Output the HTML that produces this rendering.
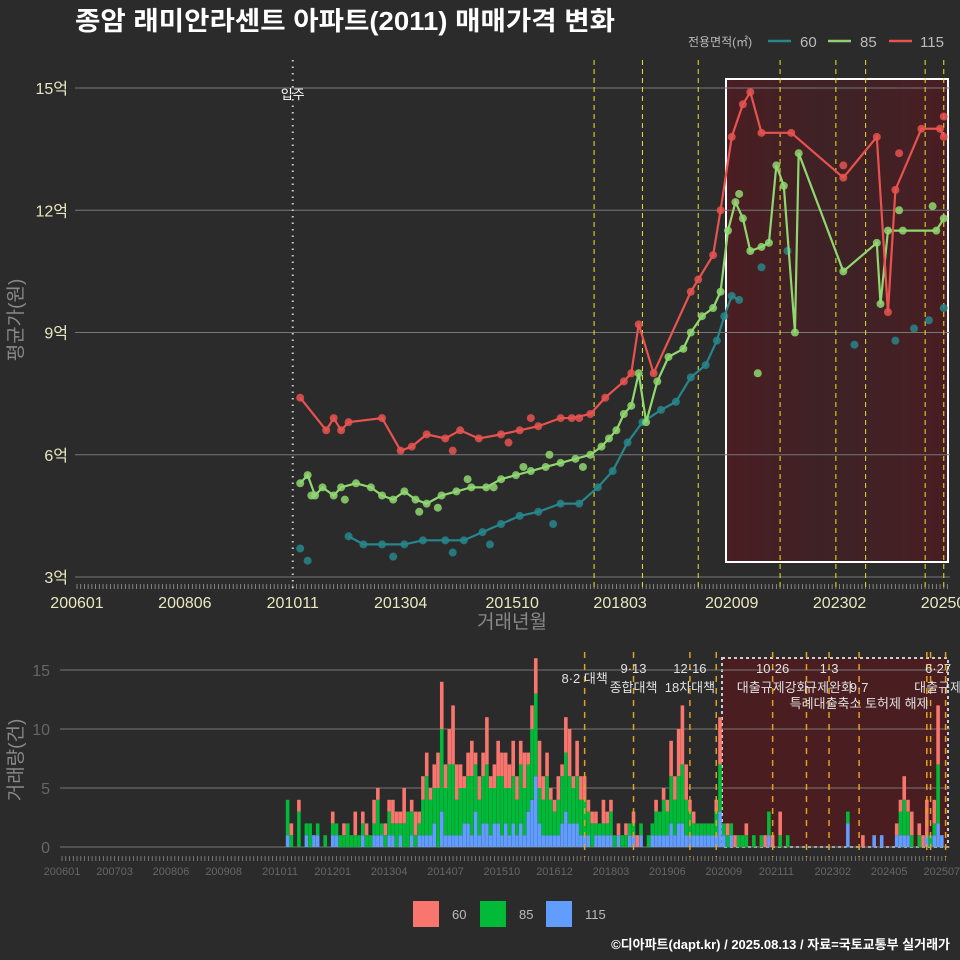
<!DOCTYPE html>
<html><head><meta charset="utf-8">
<style>
html,body{margin:0;padding:0;background:#2b2b2b;}
svg{display:block;font-family:"Liberation Sans","Noto Sans CJK KR",sans-serif;}
</style></head>
<body>
<svg id="c" width="960" height="960" viewBox="0 0 960 960" xmlns="http://www.w3.org/2000/svg">
<rect width="960" height="960" fill="#2b2b2b"/>
<text x="75" y="30" font-size="26" font-weight="bold" fill="#ffffff" textLength="540" lengthAdjust="spacingAndGlyphs">종암 래미안라센트 아파트(2011) 매매가격 변화</text>
<g font-size="14" fill="#bbbbbb">
<text x="688" y="46" font-size="12">전용면적(㎡)</text>
<line x1="768" y1="41" x2="791" y2="41" stroke="#27868b" stroke-width="2.5"/><text x="800" y="47" font-size="15">60</text>
<line x1="828" y1="41" x2="851" y2="41" stroke="#8fd16f" stroke-width="2.5"/><text x="860" y="47" font-size="15">85</text>
<line x1="889" y1="41" x2="912" y2="41" stroke="#e8524f" stroke-width="2.5"/><text x="920" y="47" font-size="15">115</text>
</g>
<g id="topg"></g>
<g id="botg"></g>
<g font-size="13" fill="#bbbbbb">
<rect x="413" y="901" width="26" height="26" fill="#f8766d"/><text x="452" y="919">60</text>
<rect x="480" y="901" width="26" height="26" fill="#00ba38"/><text x="519" y="919">85</text>
<rect x="546" y="901" width="26" height="26" fill="#619cff"/><text x="585" y="919">115</text>
</g>
<text x="950" y="949" text-anchor="end" font-size="13" font-weight="bold" fill="#ffffff">©디아파트(dapt.kr) / 2025.08.13 / 자료=국토교통부 실거래가</text>
</svg>
<script>
const NS="http://www.w3.org/2000/svg";
// ---------- data ----------
const priceYTicks=[3,6,9,12,15];
const topXLabels=["200601","200806","201011","201304","201510","201803","202009","202302","202507"];
const botXLabels=["200601","200703","200806","200908","201011","201201","201304","201407","201510","201612","201803","201906","202009","202111","202302","202405","202507"];
const s115Dates=["2011-01","2011-08","2011-10","2011-12","2012-02","2012-11","2013-04","2013-07","2013-11","2014-04","2014-08","2015-01","2015-07","2015-12","2016-05","2016-11","2017-02","2017-07","2017-11","2018-04","2018-06","2018-08","2018-12","2019-10","2019-12","2020-04","2020-06","2020-09","2020-12","2021-02","2021-05","2022-01","2023-03","2023-12","2024-03","2024-05","2024-12","2025-05","2025-06"];
const s115Vals=[7.4,6.6,6.9,6.6,6.8,6.9,6.1,6.2,6.5,6.4,6.6,6.4,6.5,6.6,6.7,6.9,6.9,7.0,7.4,7.8,8.0,9.2,8.0,10.0,10.3,10.9,12.0,13.8,14.6,14.9,13.9,13.9,12.8,13.8,9.5,12.5,14.0,14.0,13.8];
const s85Dates=["2011-01","2011-03","2011-05","2011-07","2011-10","2011-12","2012-04","2012-08","2012-11","2013-02","2013-05","2013-08","2013-11","2014-03","2014-07","2014-11","2015-03","2015-07","2015-11","2016-03","2016-07","2016-11","2017-03","2017-07","2017-10","2018-02","2018-04","2018-06","2018-08","2018-10","2019-01","2019-04","2019-08","2019-10","2020-01","2020-04","2020-06","2020-08","2020-10","2020-12","2021-02","2021-05","2021-07","2021-09","2021-11","2022-02","2022-03","2023-03","2023-12","2024-01","2024-03","2024-07","2025-04","2025-06"];
const s85Vals=[5.3,5.5,5.0,5.2,5.0,5.2,5.3,5.2,5.0,4.9,5.1,4.9,4.8,5.0,5.1,5.2,5.2,5.4,5.5,5.6,5.7,5.8,5.9,6.0,6.2,6.6,7.0,7.2,8.0,6.8,7.8,8.4,8.6,9.0,9.4,9.6,10.0,11.5,12.2,11.8,11.0,11.1,11.2,13.1,12.6,9.0,13.4,10.5,11.2,9.7,11.5,11.5,11.5,11.8];
const s85ExtraDates=["2011-04","2012-01","2013-09","2014-02","2014-10","2015-05","2016-01","2016-08","2017-05","2017-12","2020-11","2021-04","2024-06","2025-03"];
const s85ExtraVals=[5.0,4.9,4.6,4.7,5.4,5.2,5.7,6.0,5.7,6.4,12.4,8.0,12.0,12.1];
const s60Dates=["2012-02","2012-06","2012-11","2013-05","2013-10","2014-04","2014-09","2015-02","2015-07","2015-12","2016-05","2016-11","2017-04","2017-09","2018-01","2018-05","2018-09","2019-02","2019-06","2019-10","2020-02","2020-05","2020-07","2020-09","2020-11"];
const s60Vals=[4.0,3.8,3.8,3.8,3.9,3.9,3.9,4.1,4.3,4.5,4.6,4.8,4.8,5.2,5.6,6.3,6.8,7.1,7.3,7.9,8.2,8.8,9.4,9.9,9.8];
const s60ExtraDates=["2011-01","2011-03","2013-02","2014-06","2015-04","2016-09","2021-05","2021-12","2023-06","2024-05","2024-10","2025-02","2025-06"];
const s60ExtraVals=[3.7,3.4,3.5,3.6,3.8,4.3,10.6,11.0,8.7,8.8,9.1,9.3,9.6];
const s115ExtraDates=["2014-06","2015-09","2016-03","2017-04","2023-03","2024-06","2025-06"];
const s115ExtraVals=[6.1,6.3,6.9,6.9,13.1,13.4,14.3];
const topEvents=["2017-08","2018-09","2019-12","2021-10","2023-01","2023-09","2025-01","2025-06"];
// monthly volume from 2010-11
const volStart="2010-11";
const vol60=[0,0, 0,1,0,1,0,0,0,0,0,0,0,0, 1,0,0,1,0,0,2,0,1,1,0,2, 1,0,1,1,2,1,1,3,0,1,2,1, 2,2,1,2,3,4,2,3,5,3,2,1, 2,3,1,2,2,4,1,2,3,2,3,2, 3,2,2,3,1,2,3,4,2,2,1,1, 2,1,3,4,1,3,2,2,1,1,1,0, 2,1,1,0,1,0,1,0,1,1,0,0, 0,0,1,0,1,1,3,2,4,5,3,1, 1,0,0,0,0,0,1,4,0,1,0,1, 0,0,1,0,0,0,0,1,0,1,0,2, 0,0,0,0,0,0,0,0,0,0,0,0, 0,0,0,0,0,0,0,0,0,1,0,0, 0,0,0,0,0,0,1,1,2,1,2,0, 1,1,3,0,2,5,0];
const vol85=[0,0, 3,1,0,3,0,1,2,0,1,0,1,0, 1,1,1,1,2,1,1,1,1,1,1,1, 3,1,1,2,1,2,1,2,3,2,1,1, 3,5,3,3,5,7,4,6,6,3,4,3, 4,5,4,3,4,5,4,3,4,5,3,4, 4,3,5,4,4,6,7,3,3,5,3,2, 3,4,5,4,3,4,3,3,2,2,1,1, 1,1,2,1,0,1,1,1,1,0,1,0, 1,1,2,2,3,2,4,3,4,5,3,2, 1,1,1,1,1,1,2,4,1,1,1,0, 1,1,1,0,1,0,1,0,2,0,0,1, 0,1,0,0,0,0,0,0,0,0,0,0, 0,0,0,0,0,1,0,0,0,0,0,0, 0,0,0,0,0,0,0,2,3,2,1,0, 1,0,0,1,1,5,0];
const vol115=[0,0, 1,0,0,0,0,1,0,1,1,0,0,0, 1,1,0,0,0,0,0,0,1,0,0,1, 1,1,0,1,1,0,1,0,0,1,0,1, 1,1,1,2,0,3,1,1,1,1,1,2, 2,1,3,1,2,2,1,2,2,1,2,1, 2,1,2,1,3,4,6,2,1,1,1,1, 1,2,3,2,2,2,1,1,1,0,1,1, 1,1,1,0,1,0,0,1,1,0,1,0, 0,1,1,1,1,1,2,1,2,2,1,1, 1,1,1,1,1,1,1,3,1,0,1,0, 0,0,0,0,0,0,0,0,1,0,0,0, 0,0,0,0,0,0,0,0,0,0,0,0, 0,0,0,0,0,2,0,0,0,0,0,0, 1,0,1,0,0,0,1,1,1,1,0,0, 0,0,1,0,1,2,1];
const volYTicks=[0,5,10,15];
const botEvents=["2017-08","2018-09","2019-12","2020-07","2021-10","2022-07","2023-01","2023-09","2025-03","2025-04","2025-08"];
const eventLabels=[{d:"2017-08",t:"8·2 대책",row:1},{d:"2018-09",t:"9·13",row:0},{d:"2018-09",t:"종합대책",row:2},{d:"2019-12",t:"12·16",row:0},{d:"2019-12",t:"18차대책",row:2},{d:"2021-10",t:"10·26",row:0},{d:"2021-10",t:"대출규제강화",row:2},{d:"2023-01",t:"1·3",row:0},{d:"2023-01",t:"규제완화",row:2},{d:"2023-09",t:"9·7",row:2},{d:"2023-09",t:"특례대출축소 토허제 해제",row:3},{d:"2025-06",t:"6·27",row:0},{d:"2025-06",t:"대출규제",row:2}];
// ---------- helpers ----------
function mIdx(s){const y=+s.slice(0,4);const m=s.length===6?+s.slice(4,6):+s.slice(5,7);return (y-2006)*12+(m-1);}
const xT=m=>77+m*3.72, yT=v=>577-(v-3)*40.75;
const xB=m=>62+m*3.76, yB=v=>847-v*11.8;
function el(tag,attrs,parent){const e=document.createElementNS(NS,tag);for(const k in attrs)e.setAttribute(k,attrs[k]);parent.appendChild(e);return e;}
const topG=document.getElementById('topg'), botG=document.getElementById('botg');
// ---------- top chart ----------
const defs=el('defs',{},topG);
const lg=el('linearGradient',{id:'hl',x1:'0',y1:'0',x2:'1',y2:'0'},defs);
el('stop',{offset:'0','stop-color':'#4a1e22'},lg);el('stop',{offset:'0.5','stop-color':'#3d2226'},lg);el('stop',{offset:'1','stop-color':'#4a1e22'},lg);
let hb=el('rect',{x:726,y:79,width:222,height:483,fill:'url(#hl)',stroke:'#ffffff','stroke-width':2},topG);


priceYTicks.forEach(v=>{
 let g=el('line',{x1:75,x2:950,y1:yT(v),y2:yT(v),stroke:'#777','stroke-width':1},topG);
 
 
 let t=el('text',{x:68,y:yT(v)+6,'text-anchor':'end','font-size':16,fill:'#e8e8c0'},topG);t.textContent=v+'억';
 
 
});
let yt=el('text',{x:22,y:320,'text-anchor':'middle','font-size':19,fill:'#888',transform:'rotate(-90 22 320)'},topG);yt.textContent='평균가(원)';


for(let m=0;m<=234;m++){el('line',{x1:xT(m),x2:xT(m),y1:584,y2:589,stroke:'#999','stroke-width':0.8},topG);}
topXLabels.forEach(s=>{let t=el('text',{x:xT(mIdx(s)),y:608,'text-anchor':'middle','font-size':16,fill:'#e8e8c0'},topG);t.textContent=s;
 
 });
let xt=el('text',{x:512,y:628,'text-anchor':'middle','font-size':19,fill:'#888'},topG);xt.textContent='거래년월';


let mv=el('line',{x1:xT(mIdx("2010-11")),x2:xT(mIdx("2010-11")),y1:60,y2:590,stroke:'#ccc','stroke-width':2,'stroke-dasharray':'1.5,5'},topG);


let mt=el('text',{x:xT(mIdx("2010-11")),y:99,'text-anchor':'middle','font-size':13,fill:'#fff'},topG);mt.textContent='입주';


topEvents.forEach(d=>{let l=el('line',{x1:xT(mIdx(d)),x2:xT(mIdx(d)),y1:60,y2:590,stroke:'#e6e62a','stroke-width':1,'stroke-dasharray':'5,4'},topG);
 
 });
function series(dates,vals,color,name,line){
 if(line){let p=el('polyline',{points:dates.map((d,i)=>xT(mIdx(d))+','+yT(vals[i])).join(' '),fill:'none',stroke:color,'stroke-width':2.2},topG);
  
  }
 dates.forEach((d,i)=>{let c=el('circle',{cx:xT(mIdx(d)),cy:yT(vals[i]),r:4,fill:color,opacity:0.85},topG);
  
  });
}
series(s60Dates,s60Vals,'#27868b','series-60',true);
series(s60ExtraDates,s60ExtraVals,'#27868b','series-60',false);
series(s85Dates,s85Vals,'#8fd870','series-85',true);
series(s85ExtraDates,s85ExtraVals,'#8fd870','series-85',false);
series(s115Dates,s115Vals,'#e8524f','series-115',true);
series(s115ExtraDates,s115ExtraVals,'#e8524f','series-115',false);
// ---------- bottom chart ----------
let bb=el('rect',{x:722,y:658,width:226,height:189,fill:'#4a1e20',stroke:'#cccccc','stroke-width':2,'stroke-dasharray':'3,3'},botG);


volYTicks.forEach(v=>{let g=el('line',{x1:60,x2:950,y1:yB(v),y2:yB(v),stroke:'#777','stroke-width':1},botG);
 
 
 let t=el('text',{x:50,y:yB(v)+6,'text-anchor':'end','font-size':16,fill:'#666'},botG);t.textContent=v;
 
 });
let vt=el('text',{x:22,y:760,'text-anchor':'middle','font-size':19,fill:'#888',transform:'rotate(-90 22 760)'},botG);vt.textContent='거래량(건)';


for(let m=0;m<=235;m++){el('line',{x1:xB(m),x2:xB(m),y1:856,y2:861,stroke:'#888','stroke-width':0.8},botG);}
botXLabels.forEach(s=>{let t=el('text',{x:xB(mIdx(s)),y:875,'text-anchor':'middle','font-size':11,fill:'#666'},botG);t.textContent=s;
 
 });
const vs=mIdx(volStart), bw=3.6;
vol60.forEach((_,i)=>{const m=vs+i;let base=0;
 [[vol115[i],'#619cff'],[vol85[i],'#00ba38'],[vol60[i],'#f8766d']].forEach(([v,c])=>{if(!v)return;
  let r=el('rect',{x:xB(m)-bw/2,y:yB(base+v),width:bw,height:v*11.8,fill:c},botG);
  
  
  base+=v;});
});
botEvents.forEach(d=>{let l=el('line',{x1:xB(mIdx(d)),x2:xB(mIdx(d)),y1:652,y2:857,stroke:'#e0a020','stroke-width':1.5,'stroke-dasharray':'6,6'},botG);
 
 });
const rowY=[673,683,692,708];
eventLabels.forEach(e=>{let t=el('text',{x:xB(mIdx(e.d)),y:rowY[e.row],'text-anchor':'middle','font-size':13,fill:'#e0e0e0'},botG);t.textContent=e.t;
 
 });
</script>
</body></html>
